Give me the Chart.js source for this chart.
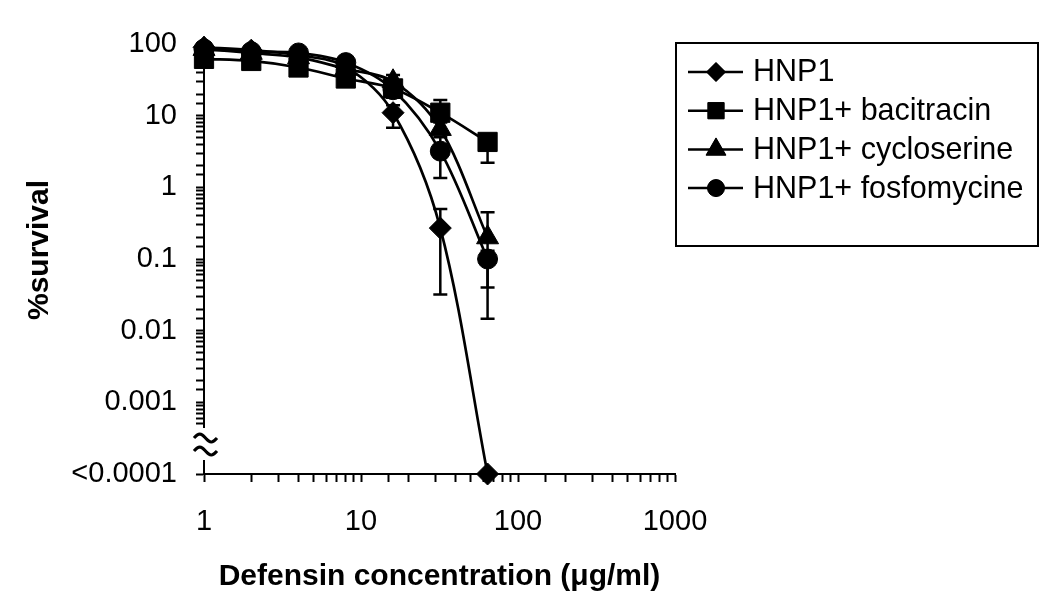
<!DOCTYPE html>
<html><head><meta charset="utf-8">
<script src="https://cdn.jsdelivr.net/npm/chart.js@4.4.1/dist/chart.umd.min.js"></script>
<style>html,body{margin:0;padding:0;background:#fff}</style>
</head><body>
<canvas id="c" width="1050" height="606"></canvas>
<script>
// ---- data ----
const concentrations = [1, 2, 4, 8, 16, 32, 64];
const seriesNames = ['HNP1', 'HNP1+ bacitracin', 'HNP1+ cycloserine', 'HNP1+ fosfomycine'];
const hnp1        = [90, 82, 70, 48, 11, 0.27, 0.0001];
const bacitracin  = [62, 58, 47, 33, 24, 11, 4.3];
const cycloserine = [85, 75, 65, 45, 30, 6.5, 0.2];
const fosfomycine = [85, 78, 75, 55, 23, 3.2, 0.1];
// error bar ends (null = none visible)
const hnp1Low         = [null, null, null, null, 6.8, 0.032, null];
const hnp1High        = [null, null, null, null, 14, 0.5, null];
const bacitracinLow   = [null, null, null, null, 17.8, 8, 2.2];
const bacitracinHigh  = [null, null, null, null, null, 16.5, 5.2];
const cycloserineLow  = [null, null, null, null, null, null, 0.04];
const cycloserineHigh = [null, null, null, null, 37, null, 0.45];
const fosfomycineLow  = [null, null, null, null, null, 1.35, 0.0147];
const fosfomycineHigh = [null, null, null, null, null, 5.0, 0.13];
const yTicks = [0.0001, 0.001, 0.01, 0.1, 1, 10, 100];
const yTickLabels = ['<0.0001', '0.001', '0.01', '0.1', '1', '10', '100'];
const xTicks = [1, 10, 100, 1000];
const xTickLabels = ['1', '10', '100', '1000'];
const xTitle = 'Defensin concentration (\u03BCg/ml)';
const yTitle = '%survival';

const FONT = '"Liberation Sans", Arial, Helvetica, sans-serif';
const seriesValues = [hnp1, bacitracin, cycloserine, fosfomycine];
const seriesLow = [hnp1Low, bacitracinLow, cycloserineLow, fosfomycineLow];
const seriesHigh = [hnp1High, bacitracinHigh, cycloserineHigh, fosfomycineHigh];
const styles = ['rectRot', 'rect', 'triangle', 'circle'];
const radii = [11, 13.6, 12.7, 10];
const legendRadii = [9.5, 11.5, 11.5, 8.5];

function findLabel(value, ticks, labels) {
  const i = ticks.findIndex(t => Math.abs(Math.log10(value) - Math.log10(t)) < 1e-6);
  return i >= 0 ? labels[i] : '';
}

const datasets = seriesValues.map((vals, s) => ({
  label: seriesNames[s],
  data: concentrations.map((c, i) => ({ x: c, y: vals[i] })),
  borderColor: '#000',
  backgroundColor: '#000',
  borderWidth: 2.7,
  tension: 0.33,
  pointStyle: styles[s],
  pointRadius: radii[s],
  pointBorderWidth: 1,
  pointBackgroundColor: '#000',
  pointBorderColor: '#000',
  clip: false
}));

const errorBars = {
  id: 'errorBars',
  afterDatasetsDraw(chart) {
    const { ctx, scales: { x, y } } = chart;
    ctx.save();
    ctx.strokeStyle = '#000';
    ctx.lineWidth = 2.5;
    seriesValues.forEach((vals, s) => {
      concentrations.forEach((c, i) => {
        const px = x.getPixelForValue(c);
        const py = y.getPixelForValue(vals[i]);
        [seriesLow[s][i], seriesHigh[s][i]].forEach(e => {
          if (e == null) return;
          const pe = y.getPixelForValue(e);
          ctx.beginPath();
          ctx.moveTo(px, py); ctx.lineTo(px, pe);
          ctx.moveTo(px - 7, pe); ctx.lineTo(px + 7, pe);
          ctx.stroke();
        });
      });
    });
    ctx.restore();
  }
};

const decorations = {
  id: 'decorations',
  afterDraw(chart) {
    const { ctx, scales: { x, y } } = chart;
    ctx.save();
    // axis break on y axis
    const ax = x.getPixelForValue(1);
    ctx.fillStyle = '#fff';
    ctx.fillRect(ax - 4, 428, 8, 32);
    ctx.strokeStyle = '#000';
    ctx.lineWidth = 3.2;
    [438, 451].forEach(y0 => {
      ctx.beginPath();
      for (let t = 0; t <= 1.0001; t += 0.05) {
        const px = ax - 10 + 23 * t;
        const py = y0 - 4 * Math.sin(2 * Math.PI * t);
        if (t === 0) ctx.moveTo(px, py); else ctx.lineTo(px, py);
      }
      ctx.stroke();
    });
    // axis titles
    ctx.fillStyle = '#000';
    ctx.font = 'bold 30px ' + FONT;
    ctx.textAlign = 'center';
    ctx.textBaseline = 'middle';
    const ca = chart.chartArea;
    ctx.fillText(xTitle, (ca.left + ca.right) / 2, 577);
    ctx.save();
    ctx.translate(40, 250);
    ctx.rotate(-Math.PI / 2);
    ctx.fillText(yTitle, 0, 0);
    ctx.restore();
    // legend
    ctx.lineWidth = 2;
    ctx.strokeStyle = '#000';
    ctx.strokeRect(676, 43, 362, 203);
    ctx.font = '30.5px ' + FONT;
    ctx.textAlign = 'left';
    chart.data.datasets.forEach((ds, i) => {
      const ly = 72 + i * 38.7;
      ctx.lineWidth = 2.5;
      ctx.beginPath(); ctx.moveTo(688, ly); ctx.lineTo(743, ly); ctx.stroke();
      ctx.lineWidth = 1;
      Chart.helpers.drawPoint(ctx, { pointStyle: ds.pointStyle, radius: legendRadii[i], borderWidth: 1, rotation: 0 }, 716, ly);
      ctx.fill();
      ctx.fillText(ds.label, 753, ly + 1);
    });
    ctx.restore();
  }
};

new Chart(document.getElementById('c'), {
  type: 'line',
  data: { datasets },
  plugins: [errorBars, decorations],
  options: {
    responsive: false,
    animation: false,
    devicePixelRatio: 1,
    layout: { padding: { top: 44, right: 375, left: 0, bottom: 0 } },
    plugins: { legend: { display: false }, tooltip: { enabled: false } },
    scales: {
      x: {
        type: 'logarithmic', min: 1, max: 1000,
        afterFit(scale) { scale.height = 132; },
        border: { display: true, color: '#000', width: 2 },
        grid: { display: true, drawOnChartArea: false, drawTicks: true, tickLength: 8, tickColor: '#000', tickWidth: 2 },
        ticks: {
          autoSkip: false, maxRotation: 0, color: '#000', padding: 23,
          font: { family: FONT, size: 29 },
          callback: v => findLabel(v, xTicks, xTickLabels)
        }
      },
      y: {
        type: 'logarithmic', min: 0.0001, max: 100,
        afterFit(scale) { scale.width = 204; },
        border: { display: true, color: '#000', width: 2 },
        grid: {
          display: true, drawOnChartArea: false, drawTicks: true, tickLength: 8, tickWidth: 2,
          tickColor: c => (c.tick && c.tick.value > 1.0001e-4 && c.tick.value < 4.5e-4) ? 'rgba(0,0,0,0)' : '#000'
        },
        ticks: {
          autoSkip: false, color: '#000', padding: 19,
          font: { family: FONT, size: 29 },
          callback: v => findLabel(v, yTicks, yTickLabels)
        }
      }
    }
  }
});
</script>
</body></html>
